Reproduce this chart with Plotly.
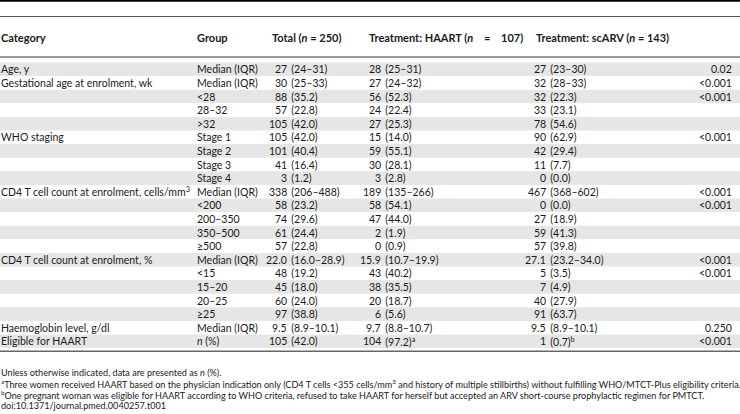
import plotly.graph_objects as go

# ---------------- data ----------------
headers = ["Category", "Group", "Total (<i>n</i> = 250)",
           "Treatment: HAART (<i>n</i>\u00a0\u00a0\u00a0 =\u00a0\u00a0\u00a0 107)",
           "Treatment: scARV (<i>n</i> = 143)", "<i>p</i>-Value"]
categories = ["Age, y", "Gestational age at enrolment, wk", "", "", "", "WHO staging", "", "", "",
              "CD4 T cell count at enrolment, cells/mm<sup>3</sup>", "", "", "", "",
              "CD4 T cell count at enrolment, %", "", "", "", "",
              "Haemoglobin level, g/dl", "Eligible for HAART"]
groups = ["Median (IQR)", "Median (IQR)", "&lt;28", "28–32", "&gt;32", "Stage 1", "Stage 2", "Stage 3",
          "Stage 4", "Median (IQR)", "&lt;200", "200–350", "350–500", "≥500", "Median (IQR)", "&lt;15",
          "15–20", "20–25", "≥25", "Median (IQR)", "<i>n</i> (%)"]
total = ["27 (24–31)", "30 (25–33)", "88 (35.2)", "57 (22.8)", "105 (42.0)", "105 (42.0)", "101 (40.4)",
         "41 (16.4)", "3 (1.2)", "338 (206–488)", "58 (23.2)", "74 (29.6)", "61 (24.4)", "57 (22.8)",
         "22.0 (16.0–28.9)", "48 (19.2)", "45 (18.0)", "60 (24.0)", "97 (38.8)", "9.5 (8.9–10.1)",
         "105 (42.0)"]
haart = ["28 (25–31)", "27 (24–32)", "56 (52.3)", "24 (22.4)", "27 (25.3)", "15 (14.0)", "59 (55.1)",
         "30 (28.1)", "3 (2.8)", "189 (135–266)", "58 (54.1)", "47 (44.0)", "2 (1.9)", "0 (0.9)",
         "15.9 (10.7–19.9)", "43 (40.2)", "38 (35.5)", "20 (18.7)", "6 (5.6)", "9.7 (8.8–10.7)",
         "104 (97.2)<sup>a</sup>"]
scarv = ["27 (23–30)", "32 (28–33)", "32 (22.3)", "33 (23.1)", "78 (54.6)", "90 (62.9)", "42 (29.4)",
         "11 (7.7)", "0 (0.0)", "467 (368–602)", "0 (0.0)", "27 (18.9)", "59 (41.3)", "57 (39.8)",
         "27.1 (23.2–34.0)", "5 (3.5)", "7 (4.9)", "40 (27.9)", "91 (63.7)", "9.5 (8.9–10.1)",
         "1 (0.7)<sup>b</sup>"]
pvals = ["0.02", "&lt;0.001", "&lt;0.001", "", "", "&lt;0.001", "", "", "", "&lt;0.001", "&lt;0.001", "", "", "",
         "&lt;0.001", "&lt;0.001", "", "", "", "0.250", "&lt;0.001"]
footnotes = [
    "Unless otherwise indicated, data are presented as <i>n</i> (%).",
    "<sup>a</sup>Three women received HAART based on the physician indication only (CD4 T cells &lt;355 cells/mm<sup>3</sup> and history of multiple stillbirths) without fulfilling WHO/MTCT-Plus eligibility criteria.",
    "<sup>b</sup>One pregnant woman was eligible for HAART according to WHO criteria, refused to take HAART for herself but accepted an ARV short-course prophylactic regimen for PMTCT.",
    "doi:10.1371/journal.pmed.0040257.t001",
]

# ---------------- layout constants ----------------
W, H = 740, 414
FONT = "Lato"
FS = 10.5
FS_HEAD = 11
FS_FOOT = 9.1
TXT = "#1a1a1a"
STRIPE = "#e6e6e6"
ROW0 = 69.3
ROW_H = 13.6
HEAD_Y = 37.5
X_CAT, X_GRP = 0, 196
X_HEAD = [0, 196, 271, 368, 535, 741]
X_NUM = [288, 382, 547]   # right edge of leading number
X_P = 733
FOOT_Y = [372, 383.5, 394.5, 405.5]

fig = go.Figure()
shapes = []
ann = []

def add(text, x, y, anchor, size=FS, bold=False):
    if bold:
        text = "<b>" + text + "</b>"
    ann.append(dict(text=text, x=x, y=y, xref="x", yref="y", xanchor=anchor, yanchor="middle",
                    showarrow=False, font=dict(family=FONT, size=size, color=TXT), align=anchor,
                    borderpad=0))

# stripes
for i in range(len(categories)):
    if i % 2 == 0:
        yc = ROW0 + i * ROW_H
        shapes.append(dict(type="rect", xref="x", yref="y", x0=0, x1=W, y0=yc - ROW_H / 2,
                           y1=yc + ROW_H / 2, fillcolor=STRIPE, line=dict(width=0), layer="below"))

# rules
shapes.append(dict(type="line", xref="paper", yref="y", x0=0, x1=1, y0=0.9, y1=0.9, line=dict(color="#000", width=1.8)))
shapes.append(dict(type="line", xref="paper", yref="y", x0=0, x1=1, y0=16.5, y1=16.5, line=dict(color="#555", width=1)))
shapes.append(dict(type="line", xref="paper", yref="y", x0=0, x1=1, y0=57, y1=57, line=dict(color="#333", width=1)))
shapes.append(dict(type="line", xref="paper", yref="y", x0=0, x1=1, y0=351.3, y1=351.3, line=dict(color="#666", width=1.6)))

# headers
for j, h in enumerate(headers):
    add(h, X_HEAD[j], HEAD_Y, "right" if j == 5 else "left", size=FS_HEAD, bold=True)

# body
for i in range(len(categories)):
    y = ROW0 + i * ROW_H
    if categories[i]:
        add(categories[i], X_CAT, y, "left")
    add(groups[i], X_GRP, y, "left")
    for col, xr in zip([total, haart, scarv], X_NUM):
        s = col[i]
        lead, rest = s.split(" (", 1)
        add(lead, xr, y, "right")
        add("\u2009(" + rest, xr + 0.5, y, "left")
    if pvals[i]:
        add(pvals[i], X_P, y, "right")

for t, y in zip(footnotes, FOOT_Y):
    add(t, 0, y, "left", size=FS_FOOT)

fig.update_layout(
    width=W, height=H, margin=dict(l=0, r=0, t=0, b=0),
    paper_bgcolor="white", plot_bgcolor="white",
    xaxis=dict(range=[0, W], visible=False, fixedrange=True),
    yaxis=dict(range=[H, 0], visible=False, fixedrange=True),
    shapes=shapes, annotations=ann, showlegend=False,
)
fig.write_html("out.html", config=dict(displayModeBar=False),
               post_script="document.body.style.margin='0';document.body.style.overflow='hidden';")
